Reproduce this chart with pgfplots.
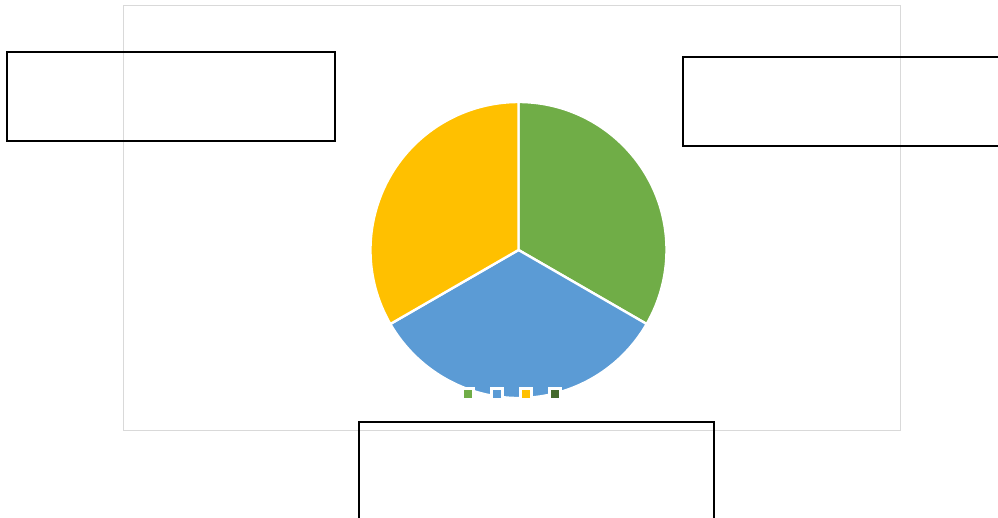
\documentclass[border=0pt]{standalone}
\usepackage{pgfplots}
\usepackage{pgfplotstable}
\pgfplotsset{compat=1.18}
\definecolor{pgreen}{HTML}{70AD47}
\definecolor{pblue}{HTML}{5B9BD5}
\definecolor{pyellow}{HTML}{FFC000}
\definecolor{pdark}{HTML}{43682B}
\definecolor{framegray}{HTML}{D9D9D9}
\pgfplotstableread{
value color
1 pgreen
1 pblue
1 pyellow
}\piedata
\begin{document}
\begin{tikzpicture}
\begin{axis}[
  scale only axis, width=998pt, height=517pt,
  xmin=0, xmax=998, ymin=0, ymax=517,
  hide axis, clip=true,
  legend style={draw=none, fill=none, at={(axis cs:513,123)}, anchor=center,
    legend columns=4, inner sep=0pt,
    /tikz/every even column/.append style={column sep=11pt}},
]
% chart frame
\draw[framegray, line width=0.8pt] (axis cs:123,512) rectangle (axis cs:900,87);
% pie slices
\def\startang{90}
\def\total{3}
\pgfplotsforeachungrouped \i in {0,1,2}{%
  \pgfplotstablegetelem{\i}{value}\of\piedata \let\v\pgfplotsretval
  \pgfplotstablegetelem{\i}{color}\of\piedata \let\c\pgfplotsretval
  \pgfmathsetmacro\endang{\startang-360*\v/\total}%
  \edef\cmd{\noexpand\filldraw[fill=\c, draw=white, line width=2.4pt, line join=round] (axis cs:518.5,267) -- ++(\startang:148pt) arc[start angle=\startang, end angle=\endang, radius=148pt] -- cycle;}%
  \cmd
  \global\let\startang\endang
}
% black boxes
\draw[black, line width=2.6pt] (axis cs:7,465) rectangle (axis cs:335,376);
\draw[black, line width=2.6pt] (axis cs:683,460) rectangle (axis cs:1010,371);
\draw[black, line width=2.6pt] (axis cs:359,95) rectangle (axis cs:714,-13);
% legend
\addlegendimage{legend image code/.code={\draw[draw=white,line width=3pt,fill=pgreen] (0pt,-5.5pt) rectangle (11pt,5.5pt);}}
\addlegendentry{}
\addlegendimage{legend image code/.code={\draw[draw=white,line width=3pt,fill=pblue] (0pt,-5.5pt) rectangle (11pt,5.5pt);}}
\addlegendentry{}
\addlegendimage{legend image code/.code={\draw[draw=white,line width=3pt,fill=pyellow] (0pt,-5.5pt) rectangle (11pt,5.5pt);}}
\addlegendentry{}
\addlegendimage{legend image code/.code={\draw[draw=white,line width=3pt,fill=pdark] (0pt,-5.5pt) rectangle (11pt,5.5pt);}}
\addlegendentry{}
\end{axis}
\pgfresetboundingbox
\path[use as bounding box] (0,0) rectangle (998pt,517pt);
\end{tikzpicture}
\end{document}
